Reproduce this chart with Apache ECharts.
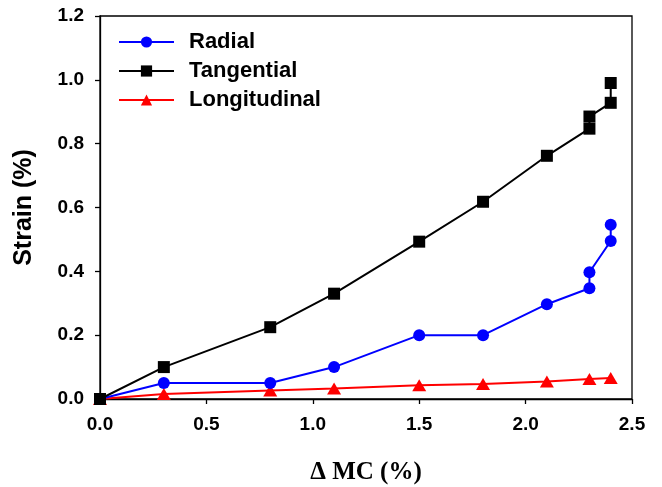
<!DOCTYPE html>
<html>
<head>
<meta charset="utf-8">
<script src="https://cdn.jsdelivr.net/npm/echarts@6/dist/echarts.min.js"></script>
<style>
  html, body { margin: 0; padding: 0; background: #fff; }
  #chart { width: 662px; height: 487px; }
</style>
</head>
<body>
<div id="chart"></div>
<script>
// Moisture-content change (%) and resulting strain (%) per direction
const radialMC   = [0, 0.3, 0.8, 1.1, 1.5, 1.8, 2.1, 2.3, 2.3, 2.4, 2.4];
const radialStrain = [0, 0.05, 0.05, 0.10, 0.20, 0.20, 0.297, 0.347, 0.397, 0.495, 0.546];

const tangentialMC = [0, 0.3, 0.8, 1.1, 1.5, 1.8, 2.1, 2.3, 2.3, 2.4, 2.4];
const tangentialStrain = [0, 0.10, 0.225, 0.33, 0.493, 0.618, 0.762, 0.847, 0.885, 0.928, 0.99];

const longMC = [0, 0.3, 0.8, 1.1, 1.5, 1.8, 2.1, 2.3, 2.4];
const longStrain = [0, 0.016, 0.027, 0.033, 0.043, 0.047, 0.055, 0.063, 0.066];

const xTicks = [0, 0.5, 1.0, 1.5, 2.0, 2.5];
const yTicks = [0, 0.2, 0.4, 0.6, 0.8, 1.0, 1.2];

const pairs = (xs, ys) => xs.map((x, i) => [x, ys[i]]);

const labelFont = { fontFamily: 'Liberation Sans, Arial, sans-serif', fontWeight: 'bold', color: '#000' };

const chart = echarts.init(document.getElementById('chart'), null, { renderer: 'canvas' });

chart.setOption({
  animation: false,
  backgroundColor: '#fff',
  grid: {
    left: 100, top: 16, right: 30, bottom: 88,
    outerBoundsMode: 'none', containLabel: false,
    show: true, borderColor: '#000', borderWidth: 1.3, backgroundColor: 'transparent'
  },
  legend: {
    left: 118, top: 31, padding: 0, orient: 'vertical', itemGap: 7,
    itemWidth: 55, itemHeight: 14,
    textStyle: Object.assign({ fontSize: 22, padding: [0, 0, 0, 10] }, labelFont),
    data: ['Radial', 'Tangential', 'Longitudinal']
  },
  xAxis: {
    type: 'value', min: 0, max: 2.5, interval: 0.5,
    name: 'Δ MC (%)', nameLocation: 'middle', nameGap: 61,
    nameTextStyle: { fontFamily: 'Liberation Serif, Times New Roman, serif', fontWeight: 'bold', fontSize: 25, color: '#000' },
    axisLine: { onZero: false, lineStyle: { color: '#000', width: 1.3 } },
    axisTick: { show: true, inside: false, length: 5, lineStyle: { color: '#000', width: 1.3 } },
    axisLabel: Object.assign({ fontSize: 19, margin: 16, formatter: v => v.toFixed(1) }, labelFont),
    splitLine: { show: false }
  },
  yAxis: {
    type: 'value', min: 0, max: 1.2, interval: 0.2,
    name: 'Strain (%)', nameLocation: 'middle', nameGap: 63, nameRotate: 90,
    nameTextStyle: Object.assign({ fontSize: 25 }, labelFont),
    axisLine: { onZero: false, lineStyle: { color: '#000', width: 1.3 } },
    axisTick: { show: true, inside: false, length: 5, lineStyle: { color: '#000', width: 1.3 } },
    axisLabel: Object.assign({ fontSize: 19, margin: 16, formatter: v => v.toFixed(1) }, labelFont),
    splitLine: { show: false }
  },
  series: [
    {
      name: 'Longitudinal', type: 'line', data: pairs(longMC, longStrain),
      symbol: 'triangle', symbolSize: [14, 12], z: 3,
      lineStyle: { color: '#ff0000', width: 2 }, itemStyle: { color: '#ff0000' }
    },
    {
      name: 'Radial', type: 'line', data: pairs(radialMC, radialStrain),
      symbol: 'circle', symbolSize: 12, z: 4,
      lineStyle: { color: '#0000ff', width: 2 }, itemStyle: { color: '#0000ff' }
    },
    {
      name: 'Tangential', type: 'line', data: pairs(tangentialMC, tangentialStrain),
      symbol: 'rect', symbolSize: 12, z: 5,
      lineStyle: { color: '#000', width: 2 }, itemStyle: { color: '#000' }
    }
  ]
});
</script>
</body>
</html>
